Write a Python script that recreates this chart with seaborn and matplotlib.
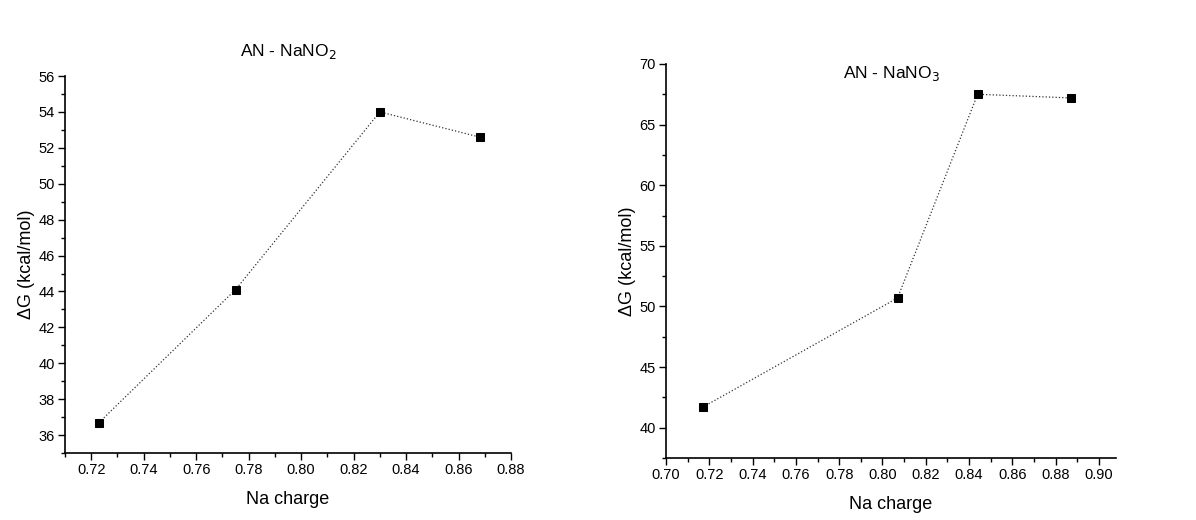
import matplotlib
matplotlib.use("Agg")
import matplotlib.pyplot as plt
from matplotlib.ticker import MultipleLocator
import pandas as pd
import seaborn as sns

# AN - NaNO2
charge_no2 = [0.723, 0.775, 0.830, 0.868]
dg_no2 = [36.7, 44.1, 54.0, 52.6]

# AN - NaNO3
charge_no3 = [0.717, 0.807, 0.844, 0.887]
dg_no3 = [41.7, 50.7, 67.5, 67.2]

sns.set_style("ticks")
plt.rcParams['font.family'] = ['Liberation Sans', 'DejaVu Sans']
plt.rcParams['xtick.major.size'] = 5
plt.rcParams['ytick.major.size'] = 5
plt.rcParams['xtick.minor.size'] = 3
plt.rcParams['ytick.minor.size'] = 3
plt.rcParams['xtick.color'] = 'black'
plt.rcParams['ytick.color'] = 'black'
plt.rcParams['text.color'] = 'black'
plt.rcParams['axes.labelcolor'] = 'black'

fig = plt.figure(figsize=(11.96, 5.2), dpi=100)
ax1 = fig.add_axes([0.0543, 0.1288, 0.3730, 0.7250])
ax2 = fig.add_axes([0.5569, 0.1192, 0.3763, 0.7578])


def draw(ax, x, y, title, xlim, ylim, xmaj, ymaj, ymin, title_y):
    df = pd.DataFrame({"charge": x, "dg": y})
    sns.lineplot(data=df, x="charge", y="dg", ax=ax, color="#333333",
                 linestyle=":", linewidth=0.9, marker="s", markersize=5.5,
                 markerfacecolor="black", markeredgecolor="black")
    ax.set_xlim(*xlim)
    ax.set_ylim(*ylim)
    ax.xaxis.set_major_locator(MultipleLocator(xmaj))
    ax.xaxis.set_minor_locator(MultipleLocator(xmaj / 2))
    ax.yaxis.set_major_locator(MultipleLocator(ymaj))
    ax.yaxis.set_minor_locator(MultipleLocator(ymin))
    ax.xaxis.set_major_formatter(plt.FormatStrFormatter('%.2f'))
    ax.tick_params(labelsize=10.5, width=1, pad=2.5)
    ax.tick_params(which='minor', width=1)
    sns.despine(ax=ax)
    for s in ax.spines.values():
        s.set_color('black')
        s.set_linewidth(1.2)
    ax.set_xlabel("Na charge", fontsize=13, labelpad=10)
    ax.set_ylabel("ΔG (kcal/mol)", fontsize=13, labelpad=2)
    ax.text(0.5, title_y, title, transform=ax.transAxes, ha="center",
            va="center", fontsize=12.5)


draw(ax1, charge_no2, dg_no2, "AN - NaNO$_2$", (0.71, 0.88), (35, 56),
     0.02, 2, 1, 1.065)
draw(ax2, charge_no3, dg_no3, "AN - NaNO$_3$", (0.70, 0.908), (37.5, 70),
     0.02, 5, 2.5, 0.975)

fig.savefig("out.png", dpi=100)
